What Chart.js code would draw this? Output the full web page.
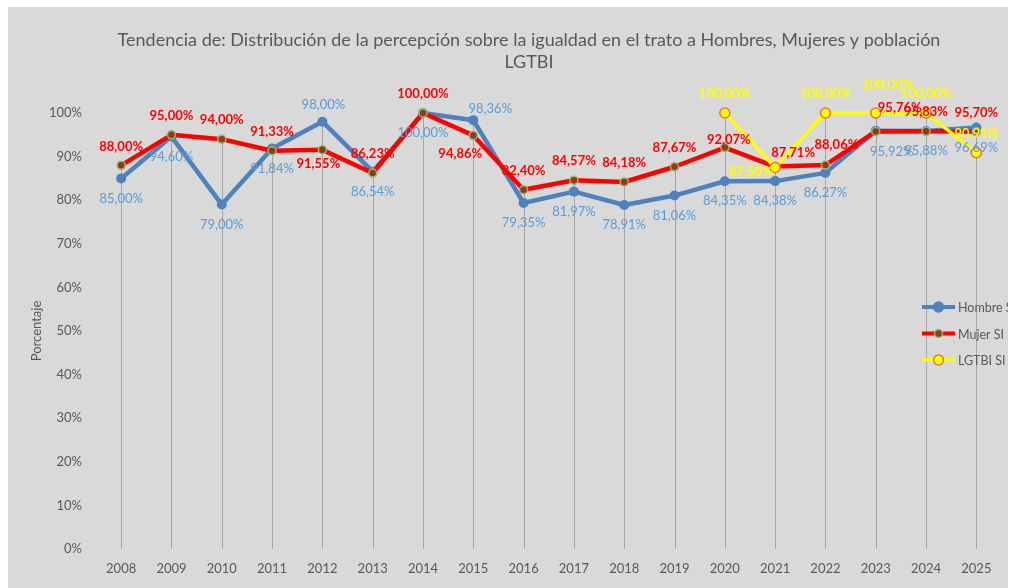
<!DOCTYPE html>
<html>
<head>
  <meta charset="UTF-8" />
  <title>Tendencia</title>
  <script src="https://cdn.jsdelivr.net/npm/chart.js"></script>
  <style>
    body { margin: 0; background: #ffffff; }
    #box { position: absolute; left: 8px; top: 7px; width: 1000px; height: 581px; background: #d9d9d9; overflow: hidden; }
  </style>
</head>
<body>
  <div id="box"><canvas id="chart1" width="1000" height="581"></canvas></div>

  <script>
    const years = ['2008', '2009', '2010', '2011', '2012', '2013', '2014', '2015', '2016',
      '2017', '2018', '2019', '2020', '2021', '2022', '2023', '2024', '2025'];
    const hombreSi = [85.00, 94.60, 79.00, 91.84, 98.00, 86.54, 100.00, 98.36, 79.35,
      81.97, 78.91, 81.06, 84.35, 84.38, 86.27, 95.92, 95.88, 96.69];
    const mujerSi = [88.00, 95.00, 94.00, 91.33, 91.55, 86.23, 100.00, 94.86, 82.40,
      84.57, 84.18, 87.67, 92.07, 87.71, 88.06, 95.76, 95.83, 95.70];
    const lgtbiSi = [null, null, null, null, null, null, null, null, null,
      null, null, null, 100.00, 87.50, 100.00, 100.00, 100.00, 90.91];
    const yTicks = [0, 10, 20, 30, 40, 50, 60, 70, 80, 90, 100];

    const txtGray = '#595959';
    const fam = 'Lato, "Open Sans", sans-serif';

    // where each data label sits relative to its point [dx, dy]
    const below = [0, 20], above = [0, -19];
    const labelPos = [
      [below, below, below, below, [1, -17], below, below, [17, -11], below,
        below, below, below, below, below, below, [16, 21], below, below],
      [above, above, above, above, [-4, 14], above, above, [-13, 18], above,
        above, above, above, [4, -8], [18, -14], [11, -20], [24, -24], above, above],
      [null, null, null, null, null, null, null, null, null,
        null, null, null, above, [-24, 4], above, [12, -28], above, above]
    ];
    const labelStyle = [
      { color: '#5b9bd5', weight: 'normal' },
      { color: '#ff0000', weight: 'bold' },
      { color: '#ffff00', weight: 'bold' }
    ];

    const fmt = v => v.toFixed(2).replace('.', ',') + '%';

    // gray drop lines from the axis up to the highest point of each year
    const dropLines = {
      id: 'dropLines',
      beforeDatasetsDraw(chart) {
        const { ctx, scales: { x, y } } = chart;
        ctx.save();
        ctx.strokeStyle = '#a6a6a6';
        ctx.lineWidth = 1;
        years.forEach((yr, i) => {
          const vals = chart.data.datasets.map(d => d.data[i]).filter(v => v !== null);
          const top = Math.max(...vals);
          const px = Math.round(x.getPixelForValue(i)) + 0.5;
          ctx.beginPath();
          ctx.moveTo(px, y.getPixelForValue(0));
          ctx.lineTo(px, y.getPixelForValue(top));
          ctx.stroke();
        });
        ctx.restore();
      }
    };

    // value labels, title and legend drawn on top
    const extras = {
      id: 'extras',
      afterDatasetsDraw(chart) {
        const { ctx } = chart;
        ctx.save();
        ctx.textAlign = 'center';
        ctx.textBaseline = 'middle';
        chart.data.datasets.forEach((ds, di) => {
          const meta = chart.getDatasetMeta(di);
          ctx.fillStyle = labelStyle[di].color;
          ctx.font = labelStyle[di].weight + ' 13px ' + fam;
          ds.data.forEach((v, i) => {
            if (v === null) return;
            const p = meta.data[i];
            const off = labelPos[di][i];
            ctx.fillText(fmt(v), p.x + off[0], p.y + off[1]);
          });
        });

        // leader line of the 2023 LGTBI label
        ctx.strokeStyle = '#a6a6a6';
        ctx.lineWidth = 1;
        ctx.beginPath();
        ctx.moveTo(882, 98);
        ctx.lineTo(875, 106);
        ctx.stroke();

        // title
        ctx.fillStyle = txtGray;
        ctx.font = '18px ' + fam;
        ctx.fillText('Tendencia de: Distribución de la percepción sobre la igualdad en el trato a Hombres, Mujeres y población', 521, 33);
        ctx.fillText('LGTBI', 521, 55);

        // legend
        const items = [
          { text: 'Hombre SI', line: '#4f81bd', w: 4, fill: '#4f81bd', border: '#4f81bd', r: 5 },
          { text: 'Mujer SI', line: '#ff0000', w: 4, fill: '#8b3a2b', border: '#9bbb59', r: 4 },
          { text: 'LGTBI SI', line: '#ffff00', w: 3.5, fill: '#ffff00', border: '#e0763c', r: 5 }
        ];
        ctx.textAlign = 'left';
        ctx.font = '12.5px ' + fam;
        items.forEach((it, k) => {
          const ly = 300 + k * 26.5;
          ctx.strokeStyle = it.line;
          ctx.lineWidth = it.w;
          ctx.beginPath();
          ctx.moveTo(914, ly);
          ctx.lineTo(947, ly);
          ctx.stroke();
          ctx.beginPath();
          ctx.arc(930.5, ly, it.r, 0, Math.PI * 2);
          ctx.fillStyle = it.fill;
          ctx.fill();
          ctx.strokeStyle = it.border;
          ctx.lineWidth = 1.5;
          ctx.stroke();
          ctx.fillStyle = txtGray;
          ctx.fillText(it.text, 950, ly + 1);
        });
        ctx.restore();
      }
    };

    new Chart(document.getElementById('chart1'), {
      type: 'line',
      data: {
        labels: years,
        datasets: [{
          label: 'Hombre SI',
          data: hombreSi,
          borderColor: '#4f81bd',
          backgroundColor: '#4f81bd',
          borderWidth: 4.5,
          pointRadius: 5,
          pointBorderWidth: 0,
          order: 2
        }, {
          label: 'Mujer SI',
          data: mujerSi,
          borderColor: '#ff0000',
          backgroundColor: '#ff0000',
          borderWidth: 4.5,
          pointRadius: 4,
          pointBackgroundColor: '#8b3a2b',
          pointBorderColor: '#9bbb59',
          pointBorderWidth: 1.5,
          order: 1
        }, {
          label: 'LGTBI SI',
          data: lgtbiSi,
          borderColor: '#ffff00',
          backgroundColor: '#ffff00',
          borderWidth: 3.5,
          pointRadius: 5,
          pointBackgroundColor: '#ffff00',
          pointBorderColor: '#e0763c',
          pointBorderWidth: 1.5,
          order: 0
        }]
      },
      options: {
        responsive: false,
        animation: false,
        clip: false,
        elements: { line: { tension: 0, borderJoinStyle: 'round', borderCapStyle: 'round' } },
        layout: { padding: { top: 106, right: 4, bottom: 0, left: 0 } },
        plugins: {
          legend: { display: false },
          tooltip: { enabled: false },
          title: { display: false }
        },
        scales: {
          x: {
            offset: true,
            grid: { display: false, drawTicks: false },
            border: { display: false },
            ticks: { color: txtGray, font: { family: fam, size: 13 }, padding: 12, maxRotation: 0, autoSkip: false },
            afterFit: s => { s.height = 39; }
          },
          y: {
            min: 0,
            max: 100,
            afterBuildTicks: s => { s.ticks = yTicks.map(v => ({ value: v })); },
            grid: { display: false, drawTicks: false },
            border: { display: false },
            ticks: { color: txtGray, font: { family: fam, size: 13 }, padding: 14, callback: v => v + '%' },
            title: { display: true, text: 'Porcentaje', color: txtGray, font: { family: fam, size: 13 }, padding: { top: 21 } },
            afterFit: s => { s.width = 88; }
          }
        }
      },
      plugins: [dropLines, extras]
    });
  </script>
</body>
</html>
